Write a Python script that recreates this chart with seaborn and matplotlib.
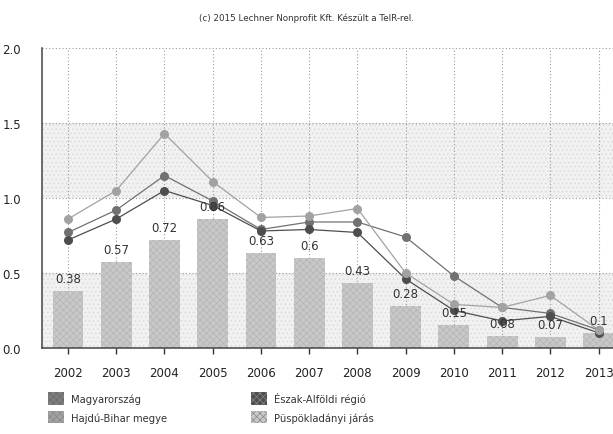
import numpy as np
import pandas as pd
import matplotlib
matplotlib.use("Agg")
import matplotlib.pyplot as plt
import seaborn as sns
from matplotlib.patches import Patch

years = ["2002", "2003", "2004", "2005", "2006", "2007", "2008", "2009", "2010", "2011", "2012", "2013"]
jaras = [0.38, 0.57, 0.72, 0.86, 0.63, 0.60, 0.43, 0.28, 0.15, 0.08, 0.07, 0.10]
jaras_labels = ["0.38", "0.57", "0.72", "0.86", "0.63", "0.6", "0.43", "0.28", "0.15", "0.08", "0.07", "0.1"]
magyar = [0.77, 0.92, 1.15, 0.98, 0.79, 0.84, 0.84, 0.74, 0.48, 0.27, 0.23, 0.12]
eszak = [0.72, 0.86, 1.05, 0.95, 0.78, 0.79, 0.77, 0.46, 0.25, 0.18, 0.21, 0.10]
hajdu = [0.86, 1.05, 1.43, 1.11, 0.87, 0.88, 0.93, 0.50, 0.29, 0.27, 0.35, 0.12]

colors = {"Magyarország": "#717171", "Észak-Alföldi régió": "#4e4e4e",
          "Hajdú-Bihar megye": "#a2a2a2", "Püspökladányi járás": "#c8c8c8"}

sns.set_theme(style="white")
plt.rcParams["font.family"] = ["DejaVu Sans"]
plt.rcParams["hatch.linewidth"] = 0.5

fig = plt.figure(figsize=(6.13, 4.35), dpi=100)
ax = fig.add_axes([0.0685, 0.198, 0.9315, 0.689])

# stippled bands behind the plot
for lo, hi in [(0.0, 0.5), (1.0, 1.5)]:
    ax.axhspan(lo, hi, facecolor="#f1f1f1", edgecolor="#d8d8d8", hatch="....", lw=0, zorder=0)

bars = pd.DataFrame({"year": years, "value": jaras})
sns.barplot(data=bars, x="year", y="value", color=colors["Püspökladányi járás"],
            width=0.64, saturation=1, ax=ax, zorder=2)
for cont in ax.containers:
    for p in cont:
        p.set_hatch("xxxxx")
        p.set_edgecolor("#b4b4b4")
        p.set_linewidth(0)

for i, lab in enumerate(jaras_labels):
    ax.text(i, jaras[i] + 0.04, lab, ha="center", va="bottom", fontsize=8.5, color="#333333", zorder=5)

lines = pd.DataFrame({
    "pos": list(range(len(years))) * 3,
    "value": magyar + eszak + hajdu,
    "series": ["Magyarország"] * 12 + ["Észak-Alföldi régió"] * 12 + ["Hajdú-Bihar megye"] * 12,
})
sns.lineplot(data=lines, x="pos", y="value", hue="series", palette=colors, marker="o",
             markersize=6.5, markeredgecolor="none", linewidth=0.9, ax=ax, legend=False, zorder=4)

# dotted grid
for y in [0.5, 1.0, 1.5, 2.0]:
    ax.axhline(y, color="#9a9a9a", lw=0.8, ls=(0, (1, 2)), zorder=1)
for i in range(len(years)):
    ax.axvline(i, color="#9a9a9a", lw=0.8, ls=(0, (1, 2)), zorder=1)

ax.set_xlim(-0.54, 11.3)
ax.set_ylim(0, 2.0)
ax.set_yticks([0.0, 0.5, 1.0, 1.5, 2.0])
ax.set_yticklabels(["0.0", "0.5", "1.0", "1.5", "2.0"])
ax.set_xticks(range(len(years)))
ax.set_xticklabels(years)
ax.set_xlabel("")
ax.set_ylabel("")
ax.tick_params(axis="x", length=4, width=1, color="#333333", labelsize=8.5, pad=9, labelcolor="#222222")
ax.tick_params(axis="y", length=0, labelsize=8.5, pad=15, labelcolor="#222222")
ax.tick_params(bottom=True, left=False)
for s in ["top", "right"]:
    ax.spines[s].set_visible(False)
for s in ["left", "bottom"]:
    ax.spines[s].set_color("#444444")
    ax.spines[s].set_linewidth(1.1)

fig.text(0.5, 0.958, "(c) 2015 Lechner Nonprofit Kft. Készült a TeIR-rel.",
         ha="center", va="center", fontsize=6.3, color="#333333")

labels = ["Magyarország", "Hajdú-Bihar megye", "Észak-Alföldi régió", "Püspökladányi járás"]
handles = [Patch(facecolor=colors[n], edgecolor="#888888", hatch="xxxxx", lw=0) for n in labels]
fig.legend(handles, labels, ncol=2, loc="upper left", bbox_to_anchor=(0.078, 0.097),
           frameon=False, fontsize=7.2, handlelength=1.6, handleheight=1.5,
           columnspacing=8.4, handletextpad=0.7, labelspacing=0.65, labelcolor="#333333",
           borderaxespad=0, borderpad=0)

fig.savefig("out.png", dpi=100)
